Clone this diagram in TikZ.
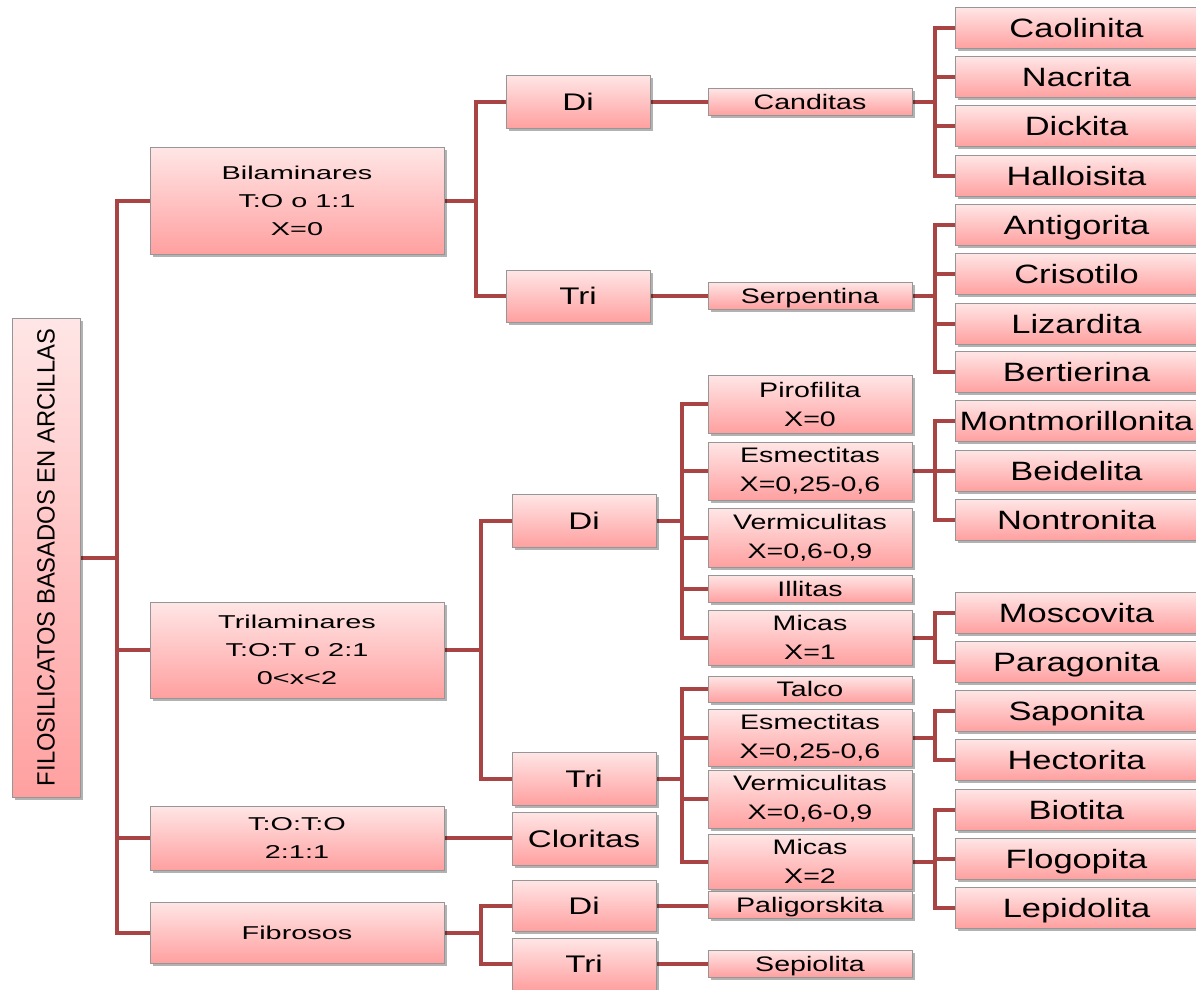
\documentclass[tikz,border=0pt]{standalone}
\usepackage{fontspec}
\setmainfont{Liberation Sans}
\newfontfamily\fA[FakeStretch=1.55]{Liberation Sans}
\newfontfamily\fB[FakeStretch=1.38]{Liberation Sans}
\newfontfamily\fC[FakeStretch=1.36]{Liberation Sans}
\newfontfamily\fD[FakeStretch=1.30]{Liberation Sans}
\newfontfamily\fR[FakeStretch=0.95]{Liberation Sans}
\usetikzlibrary{shadows,backgrounds}
\definecolor{linec}{RGB}{168,68,68}
\definecolor{ptop}{RGB}{255,230,230}
\definecolor{pbot}{RGB}{255,160,160}
\definecolor{bord}{RGB}{150,150,150}
\tikzset{
  box/.style={draw=bord, line width=0.8pt, top color=ptop, bottom color=pbot,
    inner sep=0pt, align=center,
    drop shadow={shadow xshift=2.5pt, shadow yshift=-2.5pt, opacity=0.3, fill=black}},
  conn/.style={draw=linec, line width=4pt},
  lone/.style={box, minimum width=294pt, font=\fA\fontsize{18.6}{28}\selectfont},
  ltwo/.style={box, minimum width=144pt, font=\fB\fontsize{24}{30}\selectfont, text height=17pt, text depth=0pt},
  lthree/.style={box, minimum width=204pt, font=\fC\fontsize{21}{29}\selectfont},
  single/.style={text height=15pt, text depth=0pt},
  lfour/.style={box, minimum width=243pt, minimum height=41pt, font=\fD\fontsize{26.5}{30}\selectfont, text height=19pt, text depth=0pt},
}
\begin{document}
\begin{tikzpicture}[x=1pt,y=-1pt]
\useasboundingbox (0,0) rectangle (1196,989);
% root
\node[box, minimum width=68pt, minimum height=479pt, font=\fR\fontsize{25}{30}\selectfont] (root) at (46,557.5)
  {\rotatebox{90}{FILOSILICATOS BASADOS EN ARCILLAS}};
% level 1
\node[lone, minimum height=107pt] (bil) at (297,200.5) {Bilaminares\\T:O o 1:1\\X=0};
\node[lone, minimum height=96pt] (tril) at (297,650) {Trilaminares\\T:O:T o 2:1\\0<x<2};
\node[lone, minimum height=64pt] (toto) at (297,838) {T:O:T:O\\2:1:1};
\node[lone, minimum height=61pt, text height=13.3pt, text depth=0pt] (fib) at (297,932.5) {Fibrosos};
% level 2
\node[ltwo, minimum height=53pt] (dib) at (578,101.5) {Di};
\node[ltwo, minimum height=52pt] (trib) at (578,296) {Tri};
\node[ltwo, minimum height=53pt] (dit) at (584,520.5) {Di};
\node[ltwo, minimum height=53pt] (trit) at (584,778.5) {Tri};
\node[ltwo, minimum height=53pt] (clor) at (584,838.5) {Cloritas};
\node[ltwo, minimum height=51pt] (dif) at (584,905.5) {Di};
\node[ltwo, minimum height=52pt] (trif) at (584,964) {Tri};
% level 3
\node[lthree, single, minimum height=27pt] (cand) at (810,101.5) {Canditas};
\node[lthree, single, minimum height=27pt] (serp) at (810,295.5) {Serpentina};
\node[lthree, minimum height=58pt] (piro) at (810,404) {Pirofilita\\X=0};
\node[lthree, minimum height=58pt] (esma) at (810,471) {Esmectitas\\X=0,25-0,6};
\node[lthree, minimum height=59pt] (vera) at (810,537.5) {Vermiculitas\\X=0,6-0,9};
\node[lthree, single, minimum height=27pt] (illi) at (810,588.5) {Illitas};
\node[lthree, minimum height=55pt] (mica) at (810,637.5) {Micas\\X=1};
\node[lthree, single, minimum height=26pt] (talc) at (810,689) {Talco};
\node[lthree, minimum height=57pt] (esmb) at (810,737.5) {Esmectitas\\X=0,25-0,6};
\node[lthree, minimum height=58pt] (verb) at (810,799) {Vermiculitas\\X=0,6-0,9};
\node[lthree, minimum height=55pt] (micb) at (810,861.5) {Micas\\X=2};
\node[lthree, single, minimum height=27pt] (pali) at (810,904.5) {Paligorskita};
\node[lthree, single, minimum height=27pt] (sepi) at (810,963.5) {Sepiolita};
% level 4
\node[lfour] (cao) at (1076.5,28) {Caolinita};
\node[lfour] (nac) at (1076.5,77) {Nacrita};
\node[lfour] (dic) at (1076.5,126) {Dickita};
\node[lfour] (hal) at (1076.5,176) {Halloisita};
\node[lfour] (ant) at (1076.5,225) {Antigorita};
\node[lfour] (cri) at (1076.5,274) {Crisotilo};
\node[lfour] (liz) at (1076.5,323.5) {Lizardita};
\node[lfour] (ber) at (1076.5,372) {Bertierina};
\node[lfour] (mon) at (1076.5,420.5) {Montmorillonita};
\node[lfour] (bei) at (1076.5,470.5) {Beidelita};
\node[lfour] (non) at (1076.5,519.5) {Nontronita};
\node[lfour] (mos) at (1076.5,612.5) {Moscovita};
\node[lfour] (par) at (1076.5,661.5) {Paragonita};
\node[lfour] (sap) at (1076.5,711) {Saponita};
\node[lfour] (hec) at (1076.5,759.5) {Hectorita};
\node[lfour] (bio) at (1076.5,809.5) {Biotita};
\node[lfour] (flo) at (1076.5,858.5) {Flogopita};
\node[lfour] (lep) at (1076.5,907.5) {Lepidolita};
% connectors
\begin{pgfonlayer}{background}
\foreach \c in {bil,tril,toto,fib} \draw[conn] (root.east) -- ++(37,0) |- (\c.west);
\foreach \c in {dib,trib} \draw[conn] (bil.east) -- ++(32,0) |- (\c.west);
\foreach \c in {dit,trit} \draw[conn] (tril.east) -- ++(37,0) |- (\c.west);
\foreach \c in {dif,trif} \draw[conn] (fib.east) -- ++(37,0) |- (\c.west);
\draw[conn] (toto.east) -- (clor.west |- toto.east);
\draw[conn] (dib.east) -- (cand.west |- dib.east);
\draw[conn] (trib.east) -- (serp.west |- trib.east);
\draw[conn] (dif.east) -- (pali.west |- dif.east);
\draw[conn] (trif.east) -- (sepi.west |- trif.east);
\foreach \c in {piro,esma,vera,illi,mica} \draw[conn] (dit.east) -- ++(26,0) |- (\c.west);
\foreach \c in {talc,esmb,verb,micb} \draw[conn] (trit.east) -- ++(26,0) |- (\c.west);
\foreach \c in {cao,nac,dic,hal} \draw[conn] (cand.east) -- ++(23,0) |- (\c.west);
\foreach \c in {ant,cri,liz,ber} \draw[conn] (serp.east) -- ++(23,0) |- (\c.west);
\foreach \c in {mon,bei,non} \draw[conn] (esma.east) -- ++(23,0) |- (\c.west);
\foreach \c in {mos,par} \draw[conn] (mica.east) -- ++(23,0) |- (\c.west);
\foreach \c in {sap,hec} \draw[conn] (esmb.east) -- ++(23,0) |- (\c.west);
\foreach \c in {bio,flo,lep} \draw[conn] (micb.east) -- ++(23,0) |- (\c.west);
\end{pgfonlayer}
\end{tikzpicture}
\end{document}
